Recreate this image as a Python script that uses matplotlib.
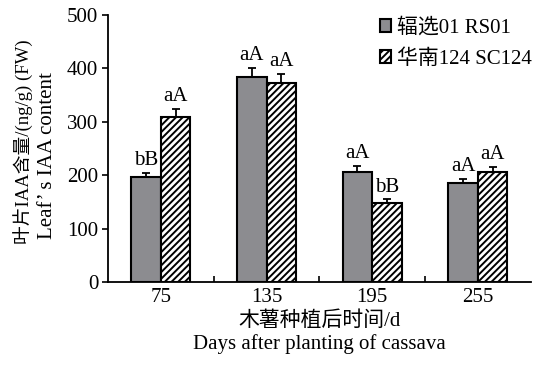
import matplotlib

matplotlib.use("Agg")

import matplotlib.pyplot as plt
import numpy as np

days = ["75", "135", "195", "255"]
rs01 = [197, 384, 207, 185]
rs01_err = [7, 17, 11, 8]
sc124 = [309, 373, 149, 207]
sc124_err = [15, 17, 6, 9]
rs01_sig = ["bB", "aA", "aA", "aA"]
sc124_sig = ["aA", "aA", "bB", "aA"]

plt.rcParams["font.family"] = ["Liberation Serif", "Noto Sans CJK SC"]
plt.rcParams["hatch.linewidth"] = 1.4

fig = plt.figure(figsize=(5.35, 3.65), dpi=100)
ax = fig.add_axes([0.202, 0.227, 0.79, 0.732])

x = np.arange(len(days))
w = 0.28
ax.bar(x - w / 2, rs01, w, color="#8c8c90", edgecolor="black", linewidth=1.5,
       label="辐选01 RS01", zorder=2)
ax.bar(x + w / 2, sc124, w, color="white", edgecolor="black", linewidth=1.5,
       hatch="/////", label="华南124 SC124", zorder=2)
ax.errorbar(x - w / 2, rs01, yerr=[np.zeros(4), rs01_err], fmt="none",
            ecolor="black", elinewidth=1.3, capsize=3, capthick=1.3, zorder=1)
ax.errorbar(x + w / 2, sc124, yerr=[np.zeros(4), sc124_err], fmt="none",
            ecolor="black", elinewidth=1.3, capsize=3, capthick=1.3, zorder=1)

for i in range(len(days)):
    ax.text(x[i] - w / 2, rs01[i] + rs01_err[i] + 5, rs01_sig[i],
            ha="center", va="bottom", fontsize=15)
    ax.text(x[i] + w / 2, sc124[i] + sc124_err[i] + 5, sc124_sig[i],
            ha="center", va="bottom", fontsize=15)

ax.set_xlim(-0.5, 3.5)
ax.set_ylim(0, 500)
ax.set_yticks([0, 100, 200, 300, 400, 500])
ax.set_xticks(x)
ax.set_xticklabels(days)
ax.set_xticks([0.5, 1.5, 2.5], minor=True)
ax.tick_params(axis="x", which="major", length=0, labelsize=15, pad=4)
ax.tick_params(axis="x", which="minor", direction="in", length=4, width=1.2)
ax.tick_params(axis="y", direction="out", length=4, width=1.2, labelsize=15, pad=3)
ax.spines["top"].set_visible(False)
ax.spines["right"].set_visible(False)
for s in ["left", "bottom"]:
    ax.spines[s].set_linewidth(1.3)

# two-line y label, the Chinese line set a bit smaller as in the original
fig.text(23 / 535, 1 - 142 / 365, "叶片IAA含量/(ng/g) (FW)", rotation=90,
         ha="center", va="center", fontsize=13.5)
fig.text(48 / 535, 1 - 156 / 365, "Leaf’ s IAA content", rotation=90,
         ha="center", va="center", fontsize=15)

ax.set_xlabel("木薯种植后时间/d\nDays after planting of cassava", fontsize=15,
              linespacing=1.25, labelpad=3)

ax.legend(loc="upper left", bbox_to_anchor=(380 / 535, 1 - 18 / 365),
          bbox_transform=fig.transFigure, frameon=False,
          fontsize=15, handlelength=0.55, handleheight=0.55, handletextpad=0.25,
          labelspacing=0.55, borderpad=0.0, borderaxespad=0.0)

fig.savefig("out.png", dpi=100)
